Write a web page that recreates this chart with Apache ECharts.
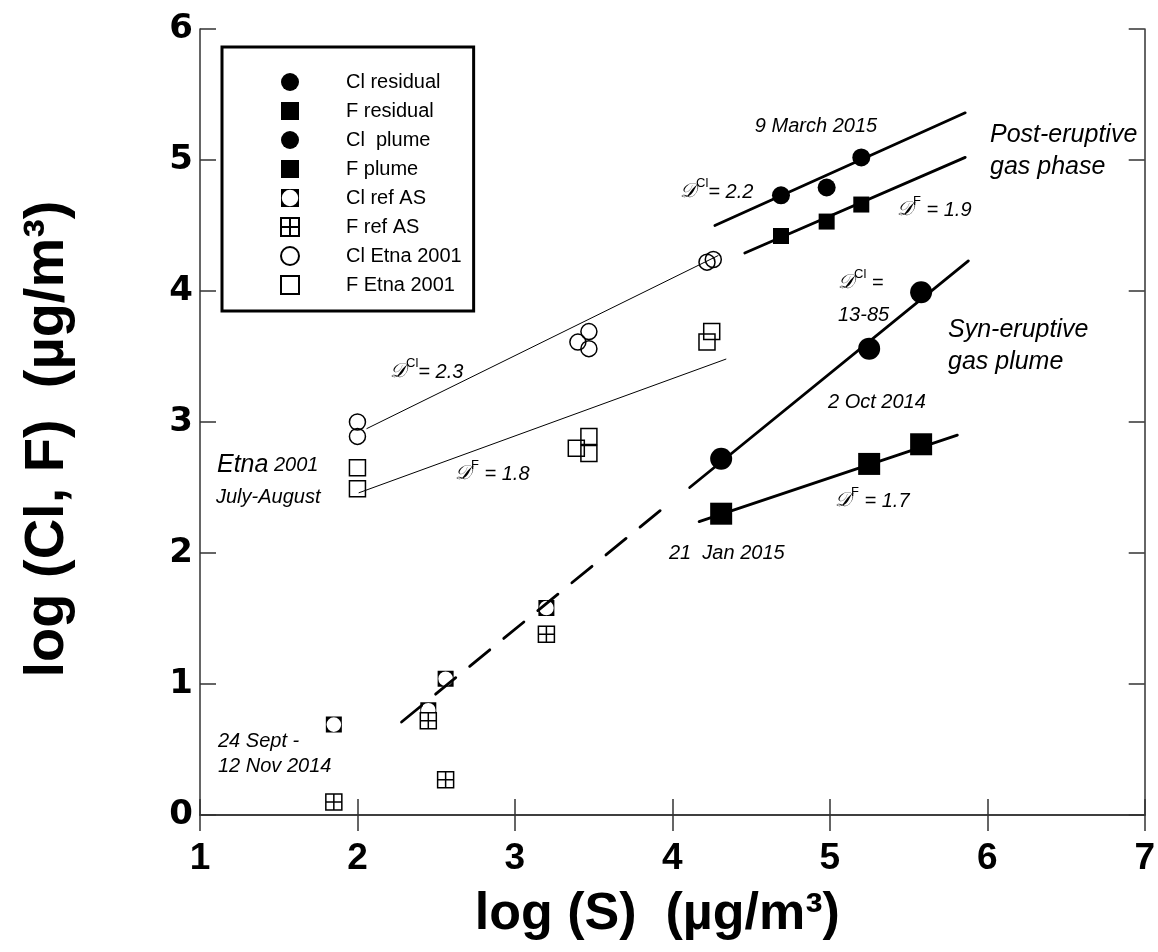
<!DOCTYPE html>
<html>
<head>
<meta charset="utf-8">
<script src="https://cdn.jsdelivr.net/npm/echarts@6/dist/echarts.min.js"></script>
<style>html,body{margin:0;padding:0;background:#fff}#c{width:1158px;height:952px}</style>
</head>
<body>
<div id="c"></div>
<script>
// ---- data (log S, log Cl/F) ----
const xTicks = [1, 2, 3, 4, 5, 6, 7];
const yTicks = [0, 1, 2, 3, 4, 5, 6];
const seriesNames = ['Cl residual', 'F residual', 'Cl  plume', 'F plume', 'Cl ref AS', 'F ref AS', 'Cl Etna 2001', 'F Etna 2001'];
const clResidual = [[4.69, 4.73], [4.98, 4.79], [5.20, 5.02]];
const fResidual = [[4.69, 4.42], [4.98, 4.53], [5.20, 4.66]];
const clPlume = [[4.31, 2.72], [5.25, 3.56], [5.58, 3.99]];
const fPlume = [[4.31, 2.30], [5.25, 2.68], [5.58, 2.83]];
const clRefAS = [[1.85, 0.69], [2.45, 0.80], [2.56, 1.04], [3.20, 1.58]];
const fRefAS = [[1.85, 0.10], [2.45, 0.72], [2.56, 0.27], [3.20, 1.38]];
const clEtna = [[2.00, 3.00], [2.00, 2.89], [3.40, 3.61], [3.47, 3.69], [3.47, 3.56], [4.22, 4.22], [4.26, 4.24]];
const fEtna = [[2.00, 2.65], [2.00, 2.49], [3.39, 2.80], [3.47, 2.89], [3.47, 2.76], [4.22, 3.61], [4.25, 3.69]];
// regression line end points
const fitClEtna = [[2.06, 2.95], [4.29, 4.27]];
const fitFEtna = [[2.01, 2.46], [4.34, 3.48]];
const fitClResidual = [[4.27, 4.50], [5.86, 5.36]];
const fitFResidual = [[4.46, 4.29], [5.86, 5.02]];
const fitClPlume = [[4.11, 2.50], [5.88, 4.23]];
const fitClPlumeExt = [[2.28, 0.71], [3.99, 2.39]];
const fitFPlume = [[4.17, 2.24], [5.81, 2.90]];

const chart = echarts.init(document.getElementById('c'), null, {renderer: 'canvas'});
const AX = '#333';
const FONT = "'Liberation Sans', Arial, sans-serif";
const NARROW = "'Liberation Sans Narrow', 'Liberation Sans', Arial, sans-serif";

const refASPath = 'path://M0 0H16V16H0Z M8 0.7A7.3 7.3 0 0 0 8 15.3A7.3 7.3 0 0 0 8 0.7Z';
const crossPath = 'path://M0 0H16V16H0Z M8 0V16 M0 8H16';

function fitLine(data, width, dashed) {
  return {
    type: 'line', data: data, symbol: 'none', silent: true, z: 1,
    lineStyle: {color: '#000', width: width, type: dashed ? [26, 18] : 'solid', cap: 'round'},
    animation: false
  };
}
function scatter(name, data, symbol, size, color, border) {
  return {
    type: 'scatter', name: name, data: data, symbol: symbol, symbolSize: size, z: 3,
    itemStyle: {color: color, borderColor: '#000', borderWidth: border, opacity: 1},
    animation: false
  };
}

const ann = (x, y, rich, text, align) => ({
  type: 'text', x: x, y: y, z: 10,
  style: {text: text, rich: rich, textAlign: align || 'left', textVerticalAlign: 'middle', fill: '#000',
          font: "italic 20px " + FONT}
});
const dRich = {
  d: {fontFamily: "'DejaVu Serif', serif", fontStyle: 'italic', fontSize: 20, lineHeight: 30, fill: '#000'},
  s: {fontFamily: FONT, fontSize: 13, lineHeight: 14, verticalAlign: 'top', fill: '#000'},
  t: {fontFamily: FONT, fontStyle: 'italic', fontSize: 20, lineHeight: 30, fill: '#000'},
  big: {fontFamily: FONT, fontStyle: 'italic', fontSize: 25, lineHeight: 30, fill: '#000'}
};

const option = {
  backgroundColor: '#fff',
  animation: false,
  grid: {left: 200, right: 9, top: 29, bottom: 137},
  xAxis: [{
    type: 'value', min: 1, max: 7, interval: 1, position: 'bottom',
    axisLine: {lineStyle: {color: AX, width: 1.5}},
    axisTick: {inside: true, length: 16, lineStyle: {color: AX, width: 1.5}},
    axisLabel: {margin: 25, color: '#000', fontFamily: NARROW, fontWeight: 'bold', fontSize: 37,
                formatter: v => xTicks.includes(v) ? String(v) : ''},
    splitLine: {show: false},
    name: 'log (S)  (µg/m³)', nameLocation: 'middle', nameGap: 74,
    nameTextStyle: {color: '#000', fontFamily: NARROW, fontWeight: 'bold', fontSize: 52, padding: [0, 30, 0, 0]}
  }, {
    type: 'value', min: 1, max: 7, interval: 1, position: 'top',
    axisLine: {lineStyle: {color: AX, width: 1.5}},
    axisTick: {inside: true, length: 16, lineStyle: {color: AX, width: 1.5}},
    axisLabel: {show: false}, splitLine: {show: false}
  }],
  yAxis: [{
    type: 'value', min: 0, max: 6, interval: 1, position: 'left',
    axisLine: {lineStyle: {color: AX, width: 1.5}},
    axisTick: {inside: true, length: 16, lineStyle: {color: AX, width: 1.5}},
    axisLabel: {margin: 7, color: '#000', fontFamily: "'DejaVu Sans', sans-serif", fontWeight: 'bold', fontSize: 34,
                formatter: v => yTicks.includes(v) ? String(v) : ''},
    splitLine: {show: false},
    name: 'log (Cl, F)  (µg/m³)', nameLocation: 'middle', nameGap: 124,
    nameTextStyle: {color: '#000', fontFamily: FONT, fontWeight: 'bold', fontSize: 56, padding: [0, 34, 0, 0]}
  }, {
    type: 'value', min: 0, max: 6, interval: 1, position: 'right',
    axisLine: {lineStyle: {color: AX, width: 1.5}},
    axisTick: {inside: true, length: 16, lineStyle: {color: AX, width: 1.5}},
    axisLabel: {show: false}, splitLine: {show: false}
  }],
  legend: {
    data: seriesNames, orient: 'vertical', left: 222, top: 47,
    padding: [25, 12, 16, 58], itemGap: 9, itemWidth: 18, itemHeight: 18,
    borderColor: '#000', borderWidth: 3, backgroundColor: '#fff',
    textStyle: {color: '#000', fontFamily: FONT, fontSize: 20, padding: [0, 0, 0, 42]},
    selectedMode: false
  },
  series: [
    fitLine(fitClEtna, 1), fitLine(fitFEtna, 1),
    fitLine(fitClResidual, 2.8), fitLine(fitFResidual, 2.8),
    fitLine(fitClPlume, 2.8), fitLine(fitClPlumeExt, 2.8, true), fitLine(fitFPlume, 2.8),
    scatter(seriesNames[0], clResidual, 'circle', 18, '#000', 0),
    scatter(seriesNames[1], fResidual, 'rect', 16, '#000', 0),
    scatter(seriesNames[2], clPlume, 'circle', 22, '#000', 0),
    scatter(seriesNames[3], fPlume, 'rect', 22, '#000', 0),
    scatter(seriesNames[4], clRefAS, refASPath, 16, '#000', 0),
    scatter(seriesNames[5], fRefAS, crossPath, 16, '#fff', 1.5),
    scatter(seriesNames[6], clEtna, 'circle', 16, 'rgba(255,255,255,0)', 1.5),
    scatter(seriesNames[7], fEtna, 'rect', 16, 'rgba(255,255,255,0)', 1.5)
  ],
  graphic: [
    ann(816, 126, dRich, '{t|9 March 2015}', 'center'),
    ann(680, 192, dRich, '{d|𝒟}{s|Cl}{t|= 2.2}'),
    ann(897, 210, dRich, '{d|𝒟}{s|F}{t| = 1.9}'),
    ann(990, 135, dRich, '{big|Post-eruptive}'),
    ann(990, 167, dRich, '{big|gas phase}'),
    ann(838, 283, dRich, '{d|𝒟}{s|Cl}{t| =}'),
    ann(838, 315, dRich, '{t|13-85}'),
    ann(948, 330, dRich, '{big|Syn-eruptive}'),
    ann(948, 362, dRich, '{big|gas plume}'),
    ann(828, 402, dRich, '{t|2 Oct 2014}'),
    ann(835, 501, dRich, '{d|𝒟}{s|F}{t| = 1.7}'),
    ann(669, 553, dRich, '{t|21  Jan 2015}'),
    ann(390, 372, dRich, '{d|𝒟}{s|Cl}{t|= 2.3}'),
    ann(455, 474, dRich, '{d|𝒟}{s|F}{t| = 1.8}'),
    ann(217, 465, dRich, '{big|Etna} {t|2001}'),
    ann(216, 497, dRich, '{t|July-August}'),
    ann(218, 741, dRich, '{t|24 Sept -}'),
    ann(218, 766, dRich, '{t|12 Nov 2014}')
  ]
};
chart.setOption(option);
</script>
</body>
</html>
